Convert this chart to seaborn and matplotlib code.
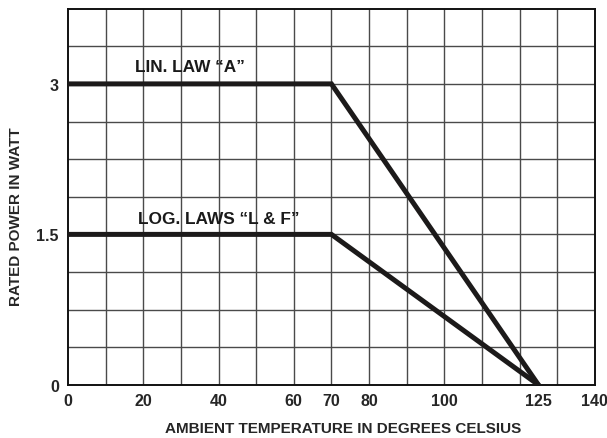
import seaborn as sns
import matplotlib.pyplot as plt
import pandas as pd
import numpy as np

temp = [0, 70, 125]
lin_power = [3, 3, 0]
log_power = [1.5, 1.5, 0]
xtick_vals = [0, 20, 40, 60, 70, 80, 100, 125, 140]
ytick_vals = [0, 1.5, 3]
ytick_labels = ['0', '1.5', '3']

df = pd.DataFrame({
    'temp': temp * 2,
    'power': lin_power + log_power,
    'law': ['lin'] * 3 + ['log'] * 3,
})

sns.set_style('white')
plt.rcParams['font.family'] = ['Liberation Sans', 'DejaVu Sans']

fig = plt.figure(figsize=(6.07, 4.39), dpi=100)
ax = fig.add_axes([0.112, 0.121, 0.868, 0.857])

# grid every 10 degrees and every 0.375 W
for gx in np.arange(10, 140, 10):
    ax.axvline(gx, color='#4a4a4a', linewidth=1.0, zorder=0)
for gy in np.arange(0.375, 3.75, 0.375):
    ax.axhline(gy, color='#4a4a4a', linewidth=1.0, zorder=0)

sns.lineplot(data=df, x='temp', y='power', units='law', estimator=None,
             color='#1c1a1a', linewidth=3.6, ax=ax, solid_joinstyle='miter', zorder=3)

ax.set_xlim(0, 140)
ax.set_ylim(0, 3.75)
ax.set_xticks(xtick_vals)
ax.set_xticklabels([str(v) for v in xtick_vals], fontsize=11.5, fontweight='bold')
ax.set_yticks(ytick_vals)
ax.set_yticklabels(ytick_labels, fontsize=11.5, fontweight='bold')
ax.tick_params(axis='x', length=0, pad=6)
ax.tick_params(axis='y', length=0, pad=6.5)
for s in ax.spines.values():
    s.set_color('#111111')
    s.set_linewidth(1.4)

ax.text(17.7, 3.17, 'LIN. LAW “A”', fontsize=12.4, fontweight='bold', va='center', color='#1a1a1a')
ax.text(18.6, 1.66, 'LOG. LAWS “L & F”', fontsize=12.4, fontweight='bold', va='center', color='#1a1a1a')

ax.set_xlabel('AMBIENT TEMPERATURE IN DEGREES CELSIUS', fontsize=11, fontweight='bold')
ax.set_ylabel('RATED POWER IN WATT', fontsize=11, fontweight='bold')
ax.xaxis.set_label_coords(0.522, -0.095)
ax.yaxis.set_label_coords(-0.0854, 0.449)

fig.savefig('out.png', dpi=100)
